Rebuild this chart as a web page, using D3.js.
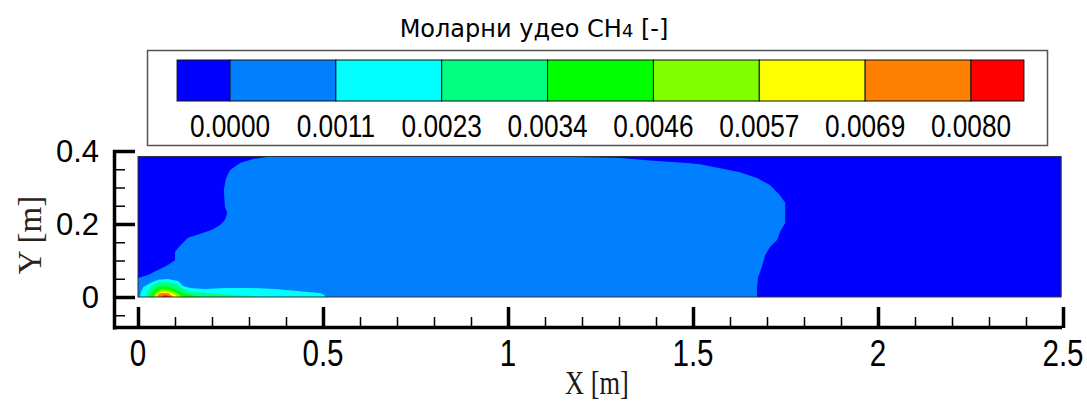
<!DOCTYPE html>
<html>
<head>
<meta charset="utf-8">
<script src="https://cdn.jsdelivr.net/npm/d3@7"></script>
<style>
  body { margin: 0; background: #fff; }
</style>
</head>
<body>
<script>
// contour levels and band colours (9 bands between / outside the 8 levels)
var levels = [0.0000, 0.0011, 0.0023, 0.0034, 0.0046, 0.0057, 0.0069, 0.0080];
var bandColors = ["#0000ff", "#0080ff", "#00ffff", "#00ff80", "#00ff00", "#80ff00", "#ffff00", "#ff8000", "#ff0000"];

var xTicks = [0, 0.5, 1, 1.5, 2, 2.5];
var xMinor = [0.1, 0.2, 0.3, 0.4, 0.6, 0.7, 0.8, 0.9, 1.1, 1.2, 1.3, 1.4, 1.6, 1.7, 1.8, 1.9, 2.1, 2.2, 2.3, 2.4];
var yTicks = [0, 0.2, 0.4];
var yMinor = [-0.05, 0.05, 0.1, 0.15, 0.25, 0.3, 0.35];

// extent of the computed domain [m]
var domainX = [0, 2.495];
var domainY = [0, 0.385];

// outlines of each band region, [x, y] in metres
var band1 = [[0, 0], [0, 0.052], [0.027, 0.060], [0.054, 0.074], [0.081, 0.088], [0.100, 0.101], [0.100, 0.123],
  [0.108, 0.134], [0.135, 0.162], [0.173, 0.175], [0.200, 0.184], [0.222, 0.197], [0.235, 0.211], [0.241, 0.230],
  [0.235, 0.247], [0.232, 0.293], [0.238, 0.326], [0.249, 0.348], [0.276, 0.367], [0.311, 0.378], [0.357, 0.385],
  [1.114, 0.385], [1.303, 0.381], [1.392, 0.373], [1.484, 0.367], [1.519, 0.364], [1.573, 0.353], [1.627, 0.342],
  [1.673, 0.326], [1.708, 0.307], [1.735, 0.279], [1.749, 0.258], [1.749, 0.203], [1.735, 0.178], [1.727, 0.156],
  [1.708, 0.137], [1.695, 0.115], [1.686, 0.082], [1.676, 0.055], [1.673, 0.027], [1.673, 0]];
var band2 = [[0.005, 0], [0.008, 0.014], [0.014, 0.027], [0.032, 0.038], [0.054, 0.047], [0.081, 0.049], [0.108, 0.044],
  [0.122, 0.030], [0.141, 0.025], [0.181, 0.022], [0.235, 0.025], [0.303, 0.025], [0.370, 0.022], [0.438, 0.016],
  [0.492, 0.011], [0.505, 0.005], [0.505, 0]];
var band3 = [[0.022, 0], [0.027, 0.019], [0.041, 0.033], [0.059, 0.041], [0.081, 0.041], [0.103, 0.036], [0.119, 0.025],
  [0.141, 0.014], [0.222, 0.008], [0.270, 0.005], [0.308, 0.003], [0.316, 0]];
var band4 = [[0.032, 0], [0.041, 0.016], [0.054, 0.027], [0.078, 0.030], [0.100, 0.022], [0.119, 0.011], [0.154, 0.003], [0.168, 0]];
var band5 = [[0.041, 0], [0.049, 0.014], [0.065, 0.022], [0.086, 0.019], [0.105, 0.011], [0.119, 0]];
var band6 = [[0.046, 0], [0.057, 0.014], [0.076, 0.016], [0.097, 0.008], [0.108, 0]];
var band7 = [[0.049, 0], [0.059, 0.011], [0.081, 0.011], [0.097, 0]];
var band8 = [[0.062, 0], [0.070, 0.005], [0.084, 0.003], [0.089, 0]];
var regions = [band1, band2, band3, band4, band5, band6, band7, band8];

var svg = d3.select("body")
    .append("svg")
    .attr("width", 1087)
    .attr("height", 403)
    .style("display", "block");

var x = d3.scaleLinear().domain([0, 2.5]).range([138, 1063]);
var y = d3.scaleLinear().domain([0, 0.4]).range([297, 151]);

// ---- contour field
var field = svg.append("g");
field.append("rect")
    .attr("x", x(domainX[0]))
    .attr("y", y(domainY[1]))
    .attr("width", x(domainX[1]) - x(domainX[0]))
    .attr("height", y(domainY[0]) - y(domainY[1]))
    .attr("fill", bandColors[0]);

var line = d3.line()
    .x(function(d) { return x(d[0]); })
    .y(function(d) { return y(d[1]); });

field.selectAll("path.band")
    .data(regions)
    .enter()
    .append("path")
    .attr("class", "band")
    .attr("d", function(d) { return line(d) + "Z"; })
    .attr("fill", function(d, i) { return bandColors[i + 1]; });

field.append("rect")
    .attr("x", x(domainX[0]))
    .attr("y", y(domainY[1]))
    .attr("width", x(domainX[1]) - x(domainX[0]))
    .attr("height", y(domainY[0]) - y(domainY[1]))
    .attr("fill", "none")
    .attr("stroke", "#333")
    .attr("stroke-width", 1);

// ---- axes (tecplot style: offset, ticks pointing inwards)
var axisX0 = 113, axisY0 = 328;

function tickAxis(g) {
    g.select(".domain").remove();
    g.selectAll("text").remove();
}

svg.append("g")
    .attr("transform", "translate(" + axisX0 + ",0)")
    .call(d3.axisRight(y).tickValues(yMinor).tickSize(12))
    .call(tickAxis)
    .selectAll("line").attr("stroke-width", 1.5);

svg.append("g")
    .attr("transform", "translate(" + axisX0 + ",0)")
    .call(d3.axisRight(y).tickValues(yTicks).tickSize(22))
    .call(tickAxis)
    .selectAll("line").attr("stroke-width", 3.5);

svg.append("g")
    .attr("transform", "translate(0," + axisY0 + ")")
    .call(d3.axisTop(x).tickValues(xMinor).tickSize(11))
    .call(tickAxis)
    .selectAll("line").attr("stroke-width", 1.5);

svg.append("g")
    .attr("transform", "translate(0," + axisY0 + ")")
    .call(d3.axisTop(x).tickValues(xTicks).tickSize(21))
    .call(tickAxis)
    .selectAll("line").attr("stroke-width", 3.5);

svg.append("line")
    .attr("x1", axisX0 + 1.5).attr("x2", axisX0 + 1.5)
    .attr("y1", y(0.403)).attr("y2", axisY0 + 1.5)
    .attr("stroke", "#000").attr("stroke-width", 3.5);

svg.append("line")
    .attr("x1", axisX0).attr("x2", x(2.5) - 1)
    .attr("y1", axisY0 - 0.5).attr("y2", axisY0 - 0.5)
    .attr("stroke", "#000").attr("stroke-width", 3.5);

svg.selectAll("text.ylab")
    .data(yTicks)
    .enter()
    .append("text")
    .attr("class", "ylab")
    .attr("x", 99)
    .attr("y", function(d) { return y(d); })
    .attr("dy", "0.36em")
    .attr("text-anchor", "end")
    .style("font-family", "Liberation Sans, Arial, sans-serif")
    .style("font-size", "31px")
    .text(function(d) { return d; });

svg.selectAll("text.xlab")
    .data(xTicks)
    .enter()
    .append("text")
    .attr("class", "xlab")
    .attr("transform", function(d) { return "translate(" + x(d) + ",353) scale(0.8,1)"; })
    .attr("dy", "0.36em")
    .attr("text-anchor", "middle")
    .style("font-family", "Liberation Sans, Arial, sans-serif")
    .style("font-size", "37px")
    .text(function(d) { return d; });

svg.append("text")
    .attr("transform", "translate(597,382) scale(0.8,1)")
    .attr("dy", "0.35em")
    .attr("text-anchor", "middle")
    .style("font-family", "Liberation Serif, Times New Roman, serif")
    .style("font-size", "33px")
    .style("fill", "#1a1a1a")
    .text("X [m]");

svg.append("text")
    .attr("transform", "translate(29,235) rotate(-90)")
    .attr("dy", "0.35em")
    .attr("text-anchor", "middle")
    .style("font-family", "Liberation Serif, Times New Roman, serif")
    .style("font-size", "33px")
    .style("fill", "#2a2418")
    .text("Y [m]");

// ---- legend
svg.append("rect")
    .attr("x", 147.5).attr("y", 50.5)
    .attr("width", 900).attr("height", 95)
    .attr("fill", "#fff")
    .attr("stroke", "#555")
    .attr("stroke-width", 1.5);

var levelX = d3.scaleLinear().domain([0, levels.length - 1]).range([230, 971]);

svg.selectAll("rect.swatch")
    .data(bandColors)
    .enter()
    .append("rect")
    .attr("class", "swatch")
    .attr("x", function(d, i) { return levelX(i === 0 ? -0.5 : i - 1); })
    .attr("y", 60)
    .attr("width", function(d, i) {
        var lo = i === 0 ? -0.5 : i - 1;
        var hi = i === levels.length ? i - 0.5 : i;
        return levelX(hi) - levelX(lo);
    })
    .attr("height", 41)
    .attr("fill", function(d) { return d; })
    .attr("stroke", "#111")
    .attr("stroke-width", 1);

var fmt = d3.format(".4f");
svg.selectAll("text.lev")
    .data(levels)
    .enter()
    .append("text")
    .attr("class", "lev")
    .attr("transform", function(d, i) { return "translate(" + levelX(i) + ",125) scale(0.82,1)"; })
    .attr("dy", "0.36em")
    .attr("text-anchor", "middle")
    .style("font-family", "Liberation Sans, Arial, sans-serif")
    .style("font-size", "32px")
    .text(function(d) { return fmt(d); });

var title = svg.append("text")
    .attr("x", 534)
    .attr("y", 28)
    .attr("dy", "0.36em")
    .attr("text-anchor", "middle")
    .style("font-family", "DejaVu Sans, Verdana, sans-serif")
    .style("font-size", "24px");
title.append("tspan").text("Моларни удео CH");
title.append("tspan").style("font-size", "18px").text("4");
title.append("tspan").text(" [-]");
</script>
</body>
</html>
